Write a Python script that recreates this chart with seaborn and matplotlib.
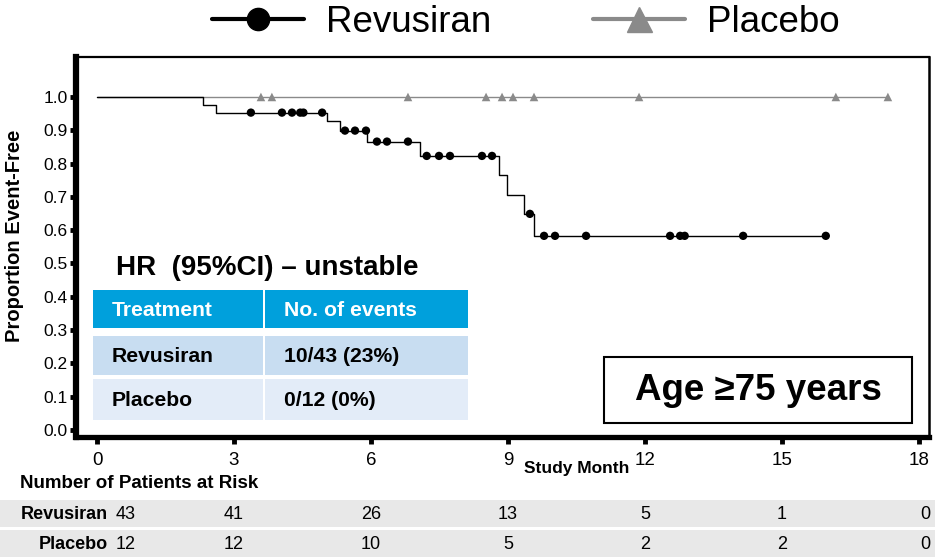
import numpy as np
import pandas as pd
import matplotlib
matplotlib.use("Agg")
import matplotlib.pyplot as plt
from matplotlib.patches import Rectangle
from matplotlib.lines import Line2D
import matplotlib.transforms as mtransforms
import seaborn as sns

# ---- data -------------------------------------------------------------
# Revusiran: event times (months) and Kaplan-Meier level after each event
rev_event_months = [2.32, 2.60, 5.04, 5.32, 5.91, 7.07, 8.80, 8.98, 9.35, 9.57]
rev_event_surv = [0.976, 0.953, 0.927, 0.899, 0.866, 0.823, 0.766, 0.706, 0.649, 0.583]
rev_censor_months = [3.37, 4.05, 4.27, 4.45, 4.52, 4.93, 5.43, 5.65, 5.89, 6.13,
                     6.35, 6.81, 7.22, 7.49, 7.73, 8.43, 8.65, 9.48, 9.79, 10.03,
                     10.71, 12.55, 12.77, 12.87, 14.15, 15.96]
# Placebo: no events, censored times only
pbo_censor_months = [3.59, 3.83, 6.81, 8.52, 8.87, 9.11, 9.57, 11.87, 16.18, 17.32]

risk_months = [0, 3, 6, 9, 12, 15, 18]
risk_revusiran = [43, 41, 26, 13, 5, 1, 0]
risk_placebo = [12, 12, 10, 5, 2, 2, 0]

x_ticks = [0, 3, 6, 9, 12, 15, 18]
y_ticks = [0.0, 0.1, 0.2, 0.3, 0.4, 0.5, 0.6, 0.7, 0.8, 0.9, 1.0]

table_header = ["Treatment", "No. of events"]
table_rows = [["Revusiran", "10/43 (23%)"], ["Placebo", "0/12 (0%)"]]

# ---- style ------------------------------------------------------------
sns.set_style("white")
plt.rcParams["font.family"] = ["Liberation Sans", "DejaVu Sans"]
plt.rcParams["text.color"] = "black"
plt.rcParams["xtick.color"] = "black"
plt.rcParams["ytick.color"] = "black"
plt.rcParams["axes.labelcolor"] = "black"

W, H = 935, 558
fig = plt.figure(figsize=(W / 100, H / 100), dpi=100)
fig.patch.set_facecolor("white")


def fx(px):
    return px / W


def fy(py):
    return 1 - py / H


ax = fig.add_axes([fx(76), fy(437), fx(929) - fx(76), fy(57) - fy(437)])

# ---- Kaplan-Meier step curves ---------------------------------------
rev_last = max(rev_censor_months)
rev_x = [0.0] + rev_event_months + [rev_last]
rev_y = [1.0] + rev_event_surv + [rev_event_surv[-1]]
rev_df = pd.DataFrame({"month": rev_x, "surv": rev_y})

pbo_last = max(pbo_censor_months)
pbo_df = pd.DataFrame({"month": [0.0, pbo_last], "surv": [1.0, 1.0]})


def surv_at(t):
    level = 1.0
    for et, s in zip(rev_event_months, rev_event_surv):
        if et <= t:
            level = s
    return level


rev_cens = pd.DataFrame({"month": rev_censor_months,
                         "surv": [surv_at(t) for t in rev_censor_months]})
pbo_cens = pd.DataFrame({"month": pbo_censor_months,
                         "surv": [1.0] * len(pbo_censor_months)})

gray = "#8a8a8a"
sns.lineplot(data=pbo_df, x="month", y="surv", ax=ax, color=gray, lw=1.0,
             drawstyle="steps-post", zorder=2)
sns.lineplot(data=rev_df, x="month", y="surv", ax=ax, color="black", lw=1.0,
             drawstyle="steps-post", zorder=3)
ax.scatter(pbo_cens["month"], pbo_cens["surv"], marker="^", s=38,
           color=gray, edgecolor="none", zorder=4)
sns.scatterplot(data=rev_cens, x="month", y="surv", ax=ax, color="black",
                s=36, edgecolor="none", zorder=5)

# ---- axes -----------------------------------------------------------
ax.set_xlim(-0.46, 18.22)
ax.set_ylim(-0.021, 1.12)
ax.set_xticks(x_ticks)
ax.set_xticklabels([str(v) for v in x_ticks])
ax.set_yticks(y_ticks)
ax.set_yticklabels([f"{v:.1f}" for v in y_ticks])
ax.set_xlabel("")
ax.set_ylabel("")
ax.tick_params(axis="y", direction="out", length=4, width=3.5, labelsize=12.5,
               pad=2, color="black", left=True)
ax.tick_params(axis="x", direction="out", length=5, width=3.5, labelsize=13.5,
               pad=6, color="black", bottom=True)
for side, lw in [("left", 4.5), ("bottom", 3.8), ("top", 1.6), ("right", 1.8)]:
    ax.spines[side].set_visible(True)
    ax.spines[side].set_color("black")
    ax.spines[side].set_linewidth(lw)

fig.text(fx(15), fy(236), "Proportion Event-Free", rotation=90, ha="center",
         va="center", fontsize=14.5, fontweight="bold")
fig.text(fx(577), fy(469), "Study Month", ha="center", va="center",
         fontsize=12.5, fontweight="bold")

# ---- legend ---------------------------------------------------------
handles = [
    Line2D([], [], color="black", lw=3, marker="o", markersize=16),
    Line2D([], [], color="#8a8a8a", lw=3, marker="^", markersize=18),
]
fig.legend(handles, ["Revusiran", "Placebo"], loc="center",
           bbox_to_anchor=(fx(526), fy(22)), ncol=2, frameon=False,
           fontsize=26.5, handlelength=2.5, columnspacing=2.75,
           handletextpad=0.6)

# ---- inset events table -------------------------------------------
fig.text(fx(116), fy(268), "HR  (95%CI) \u2013 unstable", ha="left",
         va="center", fontsize=20, fontweight="bold")
col_x = [(93, 263), (265, 468)]
row_y = [(290, 328), (336, 375), (379, 420)]
row_fill = ["#00a0dc", "#c8ddf1", "#e3ecf8"]
cells = [table_header] + table_rows
for r, (y0, y1) in enumerate(row_y):
    for c, (x0, x1) in enumerate(col_x):
        fig.add_artist(Rectangle((fx(x0), fy(y1)), fx(x1) - fx(x0),
                                 fy(y0) - fy(y1), transform=fig.transFigure,
                                 facecolor=row_fill[r], edgecolor="none",
                                 zorder=6))
        fig.text(fx(x0 + 19), fy((y0 + y1) / 2 + 1), cells[r][c], ha="left",
                 va="center", fontsize=15.2, fontweight="bold",
                 color="white" if r == 0 else "black", zorder=7)

# ---- subgroup label box -------------------------------------------
fig.add_artist(Rectangle((fx(604), fy(423)), fx(912) - fx(604),
                         fy(357) - fy(423), transform=fig.transFigure,
                         facecolor="white", edgecolor="black", lw=1.5,
                         zorder=6))
fig.text(fx(758), fy(390), "Age \u226575 years", ha="center", va="center",
         fontsize=26.5, fontweight="bold", zorder=7)

# ---- number at risk -----------------------------------------------
fig.text(fx(20), fy(483), "Number of Patients at Risk", ha="left",
         va="center", fontsize=13.5, fontweight="bold")
risk_tr = mtransforms.blended_transform_factory(ax.transData, fig.transFigure)
shift_first = mtransforms.offset_copy(risk_tr, fig=fig, x=19, units="dots")
shift_last = mtransforms.offset_copy(risk_tr, fig=fig, x=6, units="dots")
for (y0, y1), name, counts in [((500, 527), "Revusiran", risk_revusiran),
                               ((530, 557), "Placebo", risk_placebo)]:
    fig.add_artist(Rectangle((0, fy(y1)), 1, fy(y0) - fy(y1),
                             transform=fig.transFigure, facecolor="#e8e8e8",
                             edgecolor="none", zorder=0))
    yc = fy((y0 + y1) / 2 + 1)
    fig.text(fx(108), yc, name, ha="right", va="center", fontsize=13,
             fontweight="bold")
    for i, (m, n) in enumerate(zip(risk_months, counts)):
        if i == 0:
            fig.text(m, yc, str(n), transform=shift_first, ha="left",
                     va="center", fontsize=13)
        elif i == len(risk_months) - 1:
            fig.text(m, yc, str(n), transform=shift_last, ha="center",
                     va="center", fontsize=13)
        else:
            fig.text(m, yc, str(n), transform=risk_tr, ha="center",
                     va="center", fontsize=13)

fig.savefig("out.png", dpi=100, facecolor="white")
